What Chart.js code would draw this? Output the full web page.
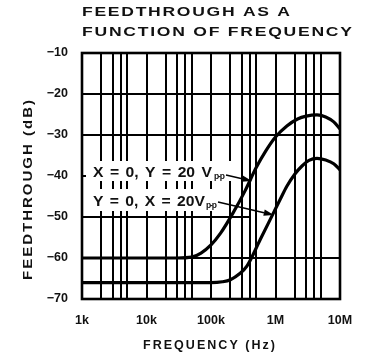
<!DOCTYPE html>
<html>
<head>
<meta charset="utf-8">
<script src="https://cdn.jsdelivr.net/npm/chart.js@4/dist/chart.umd.min.js"></script>
<style>
  html, body { margin: 0; padding: 0; background: #fff; }
  #wrap { position: relative; width: 370px; height: 355px; }
</style>
</head>
<body>
<div id="wrap"><canvas id="c" width="370" height="355"></canvas></div>
<script>
const FONT = '"Liberation Sans", Arial, Helvetica, sans-serif';

// Log-frequency grid: every decade plus its 2x, 3x, 4x and 5x lines
const gridFrequencies = [1e3, 2e3, 3e3, 4e3, 5e3, 1e4, 2e4, 3e4, 4e4, 5e4,
                         1e5, 2e5, 3e5, 4e5, 5e5, 1e6, 2e6, 3e6, 4e6, 5e6, 1e7];
const decadeValues = [1e3, 1e4, 1e5, 1e6, 1e7];
const decadeLabels = ['1k', '10k', '100k', '1M', '10M'];
const dbTicks = [-70, -60, -50, -40, -30, -20, -10];

// X = 0, Y = 20 Vp-p
const freqYDrive = [1e3, 1e4, 3e4, 5e4, 7e4, 1e5, 1.4e5, 2.2e5, 3.4e5, 5e5, 7e5,
                    1e6, 1.5e6, 2.2e6, 3e6, 4.4e6, 6e6, 8e6, 1e7];
const dbYDrive   = [-60, -60, -60, -59.8, -58.8, -56.8, -54, -49, -43.5, -38, -34,
                    -30.5, -27.8, -26.1, -25.4, -25.1, -25.6, -26.8, -28.5];

// Y = 0, X = 20 Vp-p
const freqXDrive = [1e3, 1e4, 1e5, 1.5e5, 2e5, 2.8e5, 3.6e5, 5.8e5, 9.3e5,
                    1.2e6, 1.5e6, 2e6, 2.6e6, 3.3e6, 4.4e6, 6e6, 8e6, 1e7];
const dbXDrive   = [-66, -66, -66, -65.8, -65.3, -63.8, -62, -55.5, -49,
                    -45.5, -42.5, -39.5, -37.5, -36.2, -35.7, -36.1, -37, -38.5];

const toPoints = (xs, ys) => xs.map((x, i) => ({ x, y: ys[i] }));

// Draws text with wide letters so that it spans `width` pixels; extra room goes
// between all letters, or only into the word gaps when `wordsOnly` is set
function spacedText(ctx, str, x, y, size, width, align, stretch, wordsOnly) {
  stretch = stretch || 1.12;
  ctx.save();
  ctx.font = 'bold ' + size + 'px ' + FONT;
  ctx.textAlign = 'left';
  ctx.textBaseline = 'alphabetic';
  const chars = Array.from(str);
  const widths = chars.map(ch => ctx.measureText(ch).width * stretch);
  const natural = widths.reduce((a, b) => a + b, 0);
  const slots = wordsOnly ? chars.filter(ch => ch === ' ').length : chars.length - 1;
  const gap = slots > 0 ? (width - natural) / slots : 0;
  let cx = align === 'center' ? x - width / 2 : x;
  chars.forEach((ch, i) => {
    ctx.save();
    ctx.translate(cx, y);
    ctx.scale(stretch, 1);
    ctx.fillText(ch, 0, 0);
    ctx.restore();
    cx += widths[i];
    if (!wordsOnly || ch === ' ') cx += gap;
  });
  ctx.restore();
}

function arrow(ctx, x0, y0, x1, y1) {
  const ang = Math.atan2(y1 - y0, x1 - x0);
  const len = 10, half = 3.2;
  const bx = x1 - len * Math.cos(ang), by = y1 - len * Math.sin(ang);
  ctx.save();
  ctx.strokeStyle = '#000';
  ctx.fillStyle = '#000';
  ctx.lineWidth = 1.6;
  ctx.beginPath();
  ctx.moveTo(x0, y0);
  ctx.lineTo(bx, by);
  ctx.stroke();
  ctx.beginPath();
  ctx.moveTo(x1, y1);
  ctx.lineTo(bx - half * Math.sin(ang), by + half * Math.cos(ang));
  ctx.lineTo(bx + half * Math.sin(ang), by - half * Math.cos(ang));
  ctx.closePath();
  ctx.fill();
  ctx.restore();
}

const decorations = {
  id: 'decorations',
  afterDatasetsDraw(chart) {
    const { ctx, chartArea: a, scales } = chart;
    const xs = scales.x, ys = scales.y;
    ctx.save();

    // partial grid rows that sit behind the callouts
    ctx.strokeStyle = '#000';
    ctx.lineWidth = 2;
    ctx.beginPath();
    const y40 = ys.getPixelForValue(-40);
    ctx.moveTo(a.left, y40); ctx.lineTo(a.left + 4, y40);
    const y50 = ys.getPixelForValue(-50);
    ctx.moveTo(a.left, y50); ctx.lineTo(xs.getPixelForValue(4e5), y50);
    ctx.stroke();

    // plot frame
    ctx.lineWidth = 2.6;
    ctx.strokeRect(a.left, a.top, a.right - a.left, a.bottom - a.top);

    // callout backgrounds
    ctx.fillStyle = '#fff';
    ctx.fillRect(a.left + 4, 161, 150, 20);
    ctx.fillRect(a.left + 3, 189, 140, 22);

    ctx.fillStyle = '#111';
    spacedText(ctx, 'X = 0, Y = 20 V', 93, 176.5, 14, 119, 'left', 1.12, true);
    spacedText(ctx, 'p-p', 214, 179, 8.5, 11, 'left', 1.0);
    spacedText(ctx, 'Y = 0, X = 20V', 93, 205.5, 14, 112, 'left', 1.12, true);
    spacedText(ctx, 'p-p', 206, 208, 8.5, 11, 'left', 1.0);

    arrow(ctx, 226, 175, xs.getPixelForValue(4.3e5), ys.getPixelForValue(-41.2));
    arrow(ctx, 218, 202, xs.getPixelForValue(9.4e5), ys.getPixelForValue(-49.5));

    // titles
    spacedText(ctx, 'FEEDTHROUGH AS A', 82, 16, 13, 208, 'left', 1.35);
    spacedText(ctx, 'FUNCTION OF FREQUENCY', 82, 35.5, 13, 270, 'left', 1.35);
    spacedText(ctx, 'FREQUENCY (Hz)', 209, 348.5, 12.5, 132, 'center', 1.0);

    ctx.save();
    ctx.translate(32, 190);
    ctx.rotate(-Math.PI / 2);
    spacedText(ctx, 'FEEDTHROUGH (dB)', 0, 0, 13, 180, 'center', 1.15);
    ctx.restore();

    ctx.restore();
  }
};

const tickFont = { family: FONT, size: 12.5, weight: 'bold' };

new Chart(document.getElementById('c'), {
  type: 'line',
  data: {
    datasets: [
      { label: 'X = 0, Y = 20 Vp-p', data: toPoints(freqYDrive, dbYDrive) },
      { label: 'Y = 0, X = 20 Vp-p', data: toPoints(freqXDrive, dbXDrive) }
    ]
  },
  options: {
    responsive: false,
    animation: false,
    devicePixelRatio: 1,
    layout: { padding: { top: 53, right: 30, left: 0, bottom: 0 } },
    elements: {
      point: { radius: 0 },
      line: { borderColor: '#000', borderWidth: 3.2, fill: false, cubicInterpolationMode: 'monotone', borderCapStyle: 'round' }
    },
    plugins: { legend: { display: false }, tooltip: { enabled: false }, title: { display: false } },
    scales: {
      x: {
        type: 'logarithmic',
        min: 1e3, max: 1e7,
        afterBuildTicks: s => { s.ticks = gridFrequencies.map(v => ({ value: v })); },
        afterFit: s => { s.height = 56; },
        border: { display: false },
        grid: { color: '#000', lineWidth: 2, drawTicks: false },
        ticks: {
          autoSkip: false, maxRotation: 0, padding: 14, color: '#111', font: tickFont,
          callback: v => { const i = decadeValues.indexOf(v); return i < 0 ? '' : decadeLabels[i]; }
        }
      },
      y: {
        min: -70, max: -10,
        afterBuildTicks: s => { s.ticks = dbTicks.map(v => ({ value: v })); },
        afterFit: s => { s.width = 82; },
        border: { display: false },
        grid: {
          drawTicks: false, lineWidth: 2,
          color: c => (c.tick && (c.tick.value === -40 || c.tick.value === -50)) ? 'rgba(0,0,0,0)' : '#000'
        },
        ticks: { padding: 14, color: '#111', font: tickFont, callback: v => '\u2212' + Math.abs(v) }
      }
    }
  },
  plugins: [decorations]
});
</script>
</body>
</html>
